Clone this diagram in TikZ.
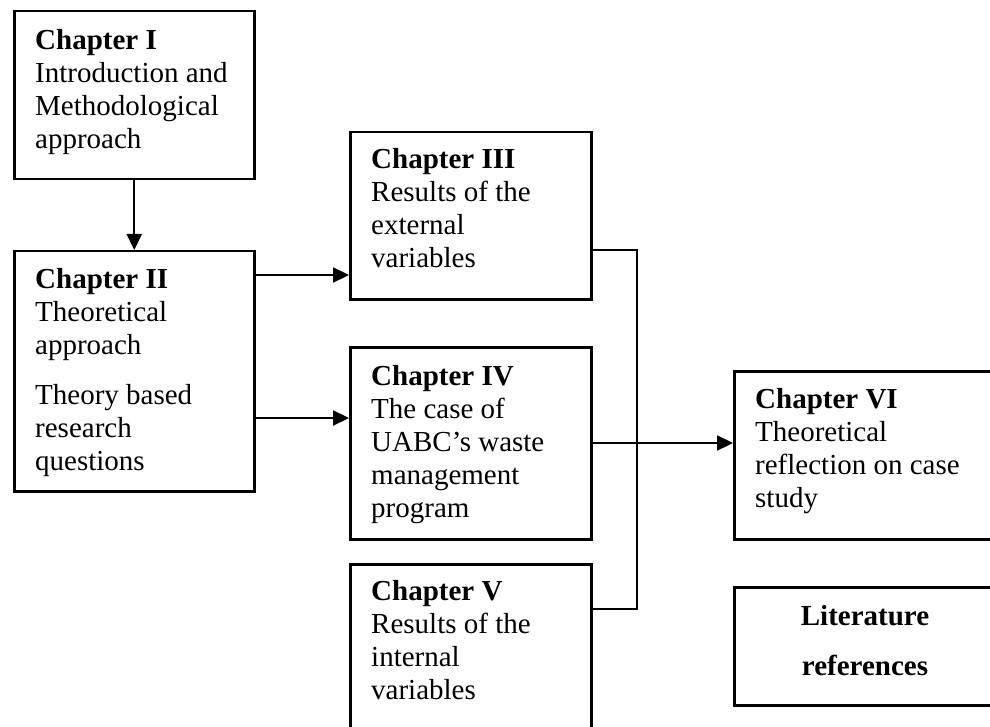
\documentclass[tikz,border=0pt]{standalone}
\usepackage{fontspec}
\setmainfont{Liberation Serif}
\usetikzlibrary{arrows.meta,calc}

\tikzset{
  chapbox/.style={draw, line width=2.5pt, anchor=north west, inner sep=0pt},
  chaptext/.style={anchor=north west, inner sep=0pt, align=left,
    font=\fontsize{29}{33}\selectfont},
  reftext/.style={anchor=north, inner sep=0pt, align=center,
    font=\fontsize{29}{50}\selectfont\bfseries},
  link/.style={line width=2.3pt},
  arrowlink/.style={line width=2.3pt, -{Triangle[length=16pt,width=15pt]}}
}

\begin{document}
\begin{tikzpicture}[x=1pt, y=-1pt]
  \clip (0,0) rectangle (990,727);
  \fill[white] (0,0) rectangle (990,727);

  % chapter boxes
  \node[chapbox, minimum width=240pt, minimum height=168pt] (c1) at (13,10) {};
  \node[chapbox, minimum width=240pt, minimum height=240pt] (c2) at (13,250) {};
  \node[chapbox, minimum width=241pt, minimum height=167pt] (c3) at (349,131) {};
  \node[chapbox, minimum width=241pt, minimum height=192pt] (c4) at (349,346) {};
  \node[chapbox, minimum width=241pt, minimum height=200pt] (c5) at (349,563) {};
  \node[chapbox, minimum width=280pt, minimum height=168pt] (c6) at (733,370) {};
  \node[chapbox, minimum width=280pt, minimum height=118pt] (lit) at (733,586) {};

  % box texts
  \node[chaptext] (t1) at (35,29) {\textbf{Chapter I}\\Introduction and\\Methodological\\approach};
  \node[chaptext] (t2) at (35,268) {\textbf{Chapter II}\\Theoretical\\approach\\[17pt]Theory based\\research\\questions};
  \node[chaptext] (t3) at (371,148) {\textbf{Chapter III}\\Results of the\\external\\variables};
  \node[chaptext] (t4) at (371,365) {\textbf{Chapter IV}\\The case of\\UABC’s waste\\management\\program};
  \node[chaptext] (t5) at (371,580) {\textbf{Chapter V}\\Results of the\\internal\\variables};
  \node[chaptext] (t6) at (755,388) {\textbf{Chapter VI}\\Theoretical\\reflection on case\\study};
  \node[reftext] (tl) at (865,605) {Literature\\references};

  % connectors
  \draw[arrowlink] (c1.south) -- (c2.north);
  \draw[arrowlink] (c2.east |- 0,275) -- (c3.west |- 0,275);
  \draw[arrowlink] (c2.east |- 0,418) -- (c4.west |- 0,418);
  \coordinate (bus top) at (637,250);
  \coordinate (bus bottom) at (637,609);
  \draw[link] (c3.east |- bus top) -- (bus top) -- (bus bottom) -- (c5.east |- bus bottom);
  \draw[arrowlink] (c4.east |- 0,443) -- (c6.west |- 0,443);
\end{tikzpicture}
\end{document}
